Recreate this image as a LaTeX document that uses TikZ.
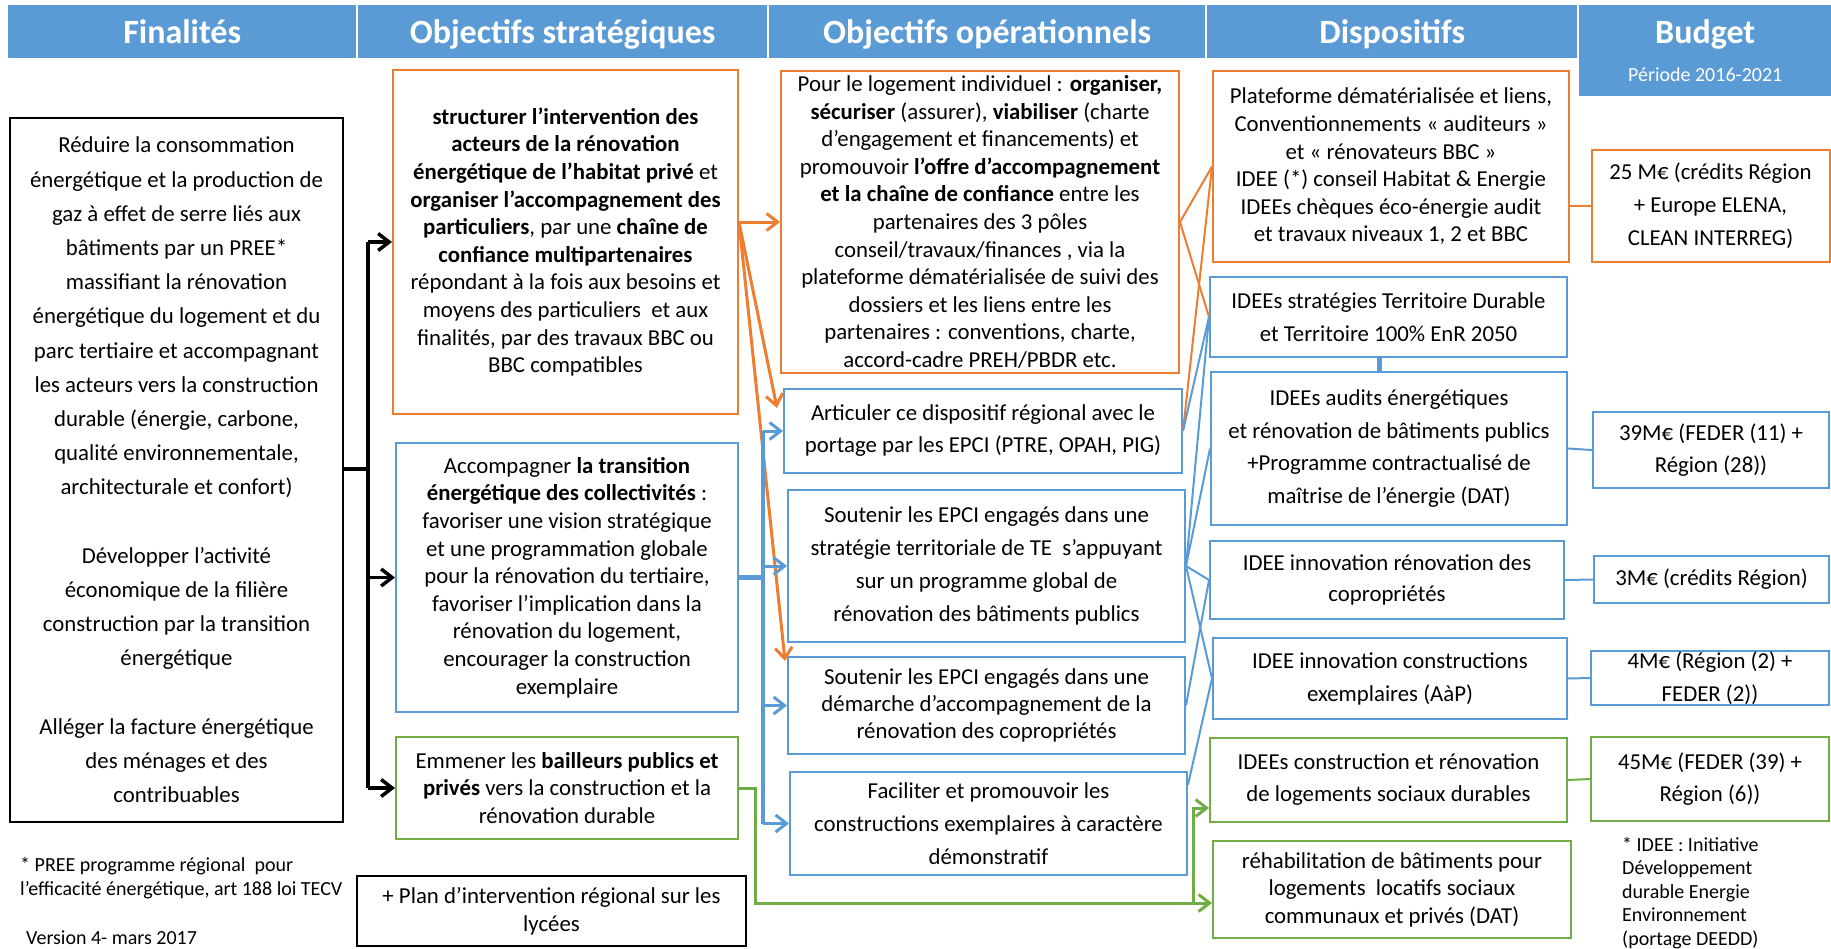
\documentclass[tikz,border=0pt]{standalone}
\usepackage{fontspec}
\setmainfont{Carlito}
\usetikzlibrary{arrows.meta}
\definecolor{cblue}{HTML}{5B9BD5}
\definecolor{corange}{HTML}{ED7D31}
\definecolor{cgreen}{HTML}{70AD47}
\tikzset{
  basebox/.style={rectangle, draw, line width=2pt, fill=white, inner sep=0pt, align=center, font=\fontsize{22.8}{27.6}\selectfont},
  obox/.style={basebox, draw=corange},
  bbox/.style={basebox, draw=cblue},
  gbox/.style={basebox, draw=cgreen},
  kbox/.style={basebox, draw=black, line width=2.5pt},
  ls/.style={font=\fontsize{22.8}{#1}\selectfont},
  hcell/.style={rectangle, fill=cblue, draw=none, inner sep=0pt, anchor=north west, text=white, text height=31pt, text depth=7pt, font=\bfseries\fontsize{34}{40}\selectfont},
  note/.style={inner sep=0pt, anchor=west, align=left, font=\fontsize{20}{23.5}\selectfont},
  ktip/.style={line width=3.5pt, draw=black, -{Straight Barb[length=11pt,width=17pt]}},
  kline/.style={line width=3.5pt, draw=black},
  otip/.style={line width=3pt, draw=corange, -{Straight Barb[length=11pt,width=17pt]}},
  btip/.style={line width=3pt, draw=cblue, -{Straight Barb[length=11pt,width=17pt]}},
  gtip/.style={line width=3pt, draw=cgreen, -{Straight Barb[length=11pt,width=17pt]}},
  othin/.style={line width=2pt, draw=corange},
  bthin/.style={line width=2pt, draw=cblue},
  gthin/.style={line width=2pt, draw=cgreen},
}
\begin{document}
\begin{tikzpicture}[x=1pt,y=-1pt]
\useasboundingbox (0,0) rectangle (1831,948);
% header
\node[hcell, minimum width=348pt, minimum height=53pt] (h1) at (8,5) {Finalités};
\node[hcell, minimum width=409pt, minimum height=53pt] (h2) at (358,5) {Objectifs stratégiques};
\node[hcell, minimum width=436pt, minimum height=53pt] (h3) at (769,5) {Objectifs opérationnels};
\node[hcell, minimum width=370pt, minimum height=53pt] (h4) at (1207,5) {Dispositifs};
\node[hcell, minimum width=252pt, minimum height=53pt] (h5) at (1579,5) {Budget};
\node[hcell, minimum width=252pt, minimum height=38pt, text height=15pt, text depth=5pt, font=\fontsize{20}{24}\selectfont] (h6) at (1579,57.5) {Période 2016-2021};

% finalites
\node[kbox, minimum width=333pt, minimum height=704pt, ls=34.2] (fin) at (176.5,470) {Réduire la consommation\\ énergétique et la production de\\ gaz à effet de serre liés aux\\ bâtiments par un PREE*\\ massifiant la rénovation\\ énergétique du logement et du\\ parc tertiaire et accompagnant\\ les acteurs vers la construction\\ durable (énergie, carbone,\\ qualité environnementale,\\ architecturale et confort)\\[34.2pt] Développer l’activité\\ économique de la filière\\ construction par la transition\\ énergétique\\[34.2pt] Alléger la facture énergétique\\ des ménages et des\\ contribuables};

\node[note] (n1) at (20,878) {* PREE programme régional\ \ pour\\ l’efficacité énergétique, art 188 loi TECV};
\node[note] (n2) at (26,938) {Version 4- mars 2017};

% strategic
\node[obox, minimum width=345pt, minimum height=344pt] (s1) at (565.5,242) {\textbf{structurer l’intervention des}\\ \textbf{acteurs de la rénovation}\\ \textbf{énergétique de l’habitat privé} et\\ \textbf{organiser l’accompagnement des}\\ \textbf{particuliers}, par une \textbf{chaîne de}\\ \textbf{confiance multipartenaires}\\ répondant à la fois aux besoins et\\ moyens des particuliers\ \ et aux\\ finalités, par des travaux BBC ou\\ BBC compatibles};
\node[bbox, minimum width=342pt, minimum height=269pt] (s2) at (567,577.5) {Accompagner \textbf{la transition}\\ \textbf{énergétique des collectivités} :\\ favoriser une vision stratégique\\ et une programmation globale\\ pour la rénovation du tertiaire,\\ favoriser l’implication dans la\\ rénovation du logement,\\ encourager la construction\\ exemplaire};
\node[gbox, minimum width=342pt, minimum height=102pt] (s3) at (567,788) {Emmener les \textbf{bailleurs publics et}\\ \textbf{privés} vers la construction et la\\ rénovation durable};
\node[kbox, minimum width=389pt, minimum height=70pt] (plan) at (551.5,911) {+ Plan d’intervention régional sur les\\ lycées};

% operational
\node[obox, minimum width=398pt, minimum height=302pt] (o1) at (980,222) {Pour le logement individuel : \textbf{organiser,}\\ \textbf{sécuriser} (assurer), \textbf{viabiliser} (charte\\ d’engagement et financements) et\\ promouvoir \textbf{l’offre d’accompagnement}\\ \textbf{et la chaîne de confiance} entre les\\ partenaires des 3 pôles\\ conseil/travaux/finances , via la\\ plateforme dématérialisée de suivi des\\ dossiers et les liens entre les\\ partenaires : conventions, charte,\\ accord-cadre PREH/PBDR etc.};
\node[bbox, minimum width=398pt, minimum height=84pt, ls=32] (o2) at (983,431) {Articuler ce dispositif régional avec le\\ portage par les EPCI (PTRE, OPAH, PIG)};
\node[bbox, minimum width=397pt, minimum height=152pt, ls=33] (o3) at (986.5,566) {Soutenir les EPCI engagés dans une\\ stratégie territoriale de TE\ \ s’appuyant\\ sur un programme global de\\ rénovation des bâtiments publics};
\node[bbox, minimum width=397pt, minimum height=97pt, ls=27.4] (o4) at (986.5,705.5) {Soutenir les EPCI engagés dans une\\ démarche d’accompagnement de la\\ rénovation des copropriétés};
\node[bbox, minimum width=397pt, minimum height=103pt, ls=33] (o5) at (988.5,823.5) {Faciliter et promouvoir les\\ constructions exemplaires à caractère\\ démonstratif};

% dispositifs
\node[obox, minimum width=356pt, minimum height=191pt] (d1) at (1391,166.5) {Plateforme dématérialisée et liens,\\ Conventionnements « auditeurs »\\ et « rénovateurs BBC »\\ IDEE (*) conseil Habitat \& Energie\\ IDEEs chèques éco-énergie audit\\ et travaux niveaux 1, 2 et BBC};
\node[bbox, minimum width=357pt, minimum height=80pt, ls=32.7] (d2) at (1388.5,317) {IDEEs stratégies Territoire Durable\\ et Territoire 100\% EnR 2050};
\node[bbox, minimum width=356pt, minimum height=153pt, ls=32.7] (d3) at (1389,448.5) {IDEEs audits énergétiques\\ et rénovation de bâtiments publics\\ +Programme contractualisé de\\ maîtrise de l’énergie (DAT)};
\node[bbox, minimum width=354pt, minimum height=78pt, ls=30.7] (d4) at (1387,580) {IDEE innovation rénovation des\\ copropriétés};
\node[bbox, minimum width=354pt, minimum height=81pt, ls=33] (d5) at (1390,678.5) {IDEE innovation constructions\\ exemplaires (AàP)};
\node[gbox, minimum width=357pt, minimum height=84pt, ls=32] (d6) at (1388.5,780) {IDEEs construction et rénovation\\ de logements sociaux durables};
\node[gbox, minimum width=358pt, minimum height=97pt, ls=27.5] (d7) at (1392,889.5) {réhabilitation de bâtiments pour\\ logements\ \ locatifs sociaux\\ communaux et privés (DAT)};

% budget
\node[obox, minimum width=238pt, minimum height=112pt, ls=33] (b1) at (1710.5,206) {25 M€ (crédits Région\\ + Europe ELENA,\\ CLEAN INTERREG)};
\node[bbox, minimum width=236pt, minimum height=76pt, ls=32.5] (b2) at (1711,450) {39M€ (FEDER (11) +\\ Région (28))};
\node[bbox, minimum width=235pt, minimum height=47pt] (b3) at (1711.5,579.5) {3M€ (crédits Région)};
\node[bbox, minimum width=238pt, minimum height=54pt, ls=33] (b4) at (1710,678) {4M€ (Région (2) +\\ FEDER (2))};
\node[gbox, minimum width=238pt, minimum height=84pt, ls=32] (b5) at (1710,779) {45M€ (FEDER (39) +\\ Région (6))};
\node[note] (n3) at (1622,893) {* IDEE : Initiative\\ Développement\\ durable Energie\\ Environnement\\ (portage DEEDD)};

% black connectors
\coordinate (kj) at (368,469);
\draw[kline] (fin.east |- kj) -- (kj);
\draw[kline] (kj |- s1.west) -- (kj |- s3.west);
\draw[ktip] (kj |- s1.west) -- (s1.west);
\draw[ktip] (kj |- s2.west) -- (s2.west);
\draw[ktip] (kj |- s3.west) -- (s3.west);

% orange strategic -> operational
\coordinate (os) at (s1.east |- o1.west);
\coordinate (o2t) at (777,408);
\coordinate (o4t) at (785,661);
\draw[otip] (os) -- (o1.west);
\draw[otip] (os) -- (o2t);
\draw[otip] (os) -- (o4t);

% blue strategic -> operational
\coordinate (bj) at (763,577.5);
\draw[cblue, line width=5.5pt] (s2.east) -- (bj);
\draw[cblue, line width=3.5pt] (bj |- o2.west) -- (bj |- o5.west);
\draw[btip] (bj |- o2.west) -- (o2.west);
\draw[btip] (bj |- o3.west) -- (o3.west);
\draw[btip] (bj |- o4.west) -- (o4.west);
\draw[btip] (bj |- o5.west) -- (o5.west);

% green strategic -> dispositifs
\coordinate (g1) at (755,903);
\coordinate (g2) at (1193,903);
\coordinate (g3) at (1193,808);
\draw[gtip] (s3.east) -| (g1) -- (d7.west |- g1);
\draw[gtip] (g2) |- (d6.west |- g3);

% operational -> dispositifs
\draw[othin] (o1.east) -- (d1.west);
\draw[othin] (o1.east) -- (d2.west);
\draw[othin] (o2.east) -- (d1.west);
\draw[bthin] (o2.east) -- (d2.west);
\draw[bthin] (o3.east) -- (d2.west);
\draw[bthin] (o3.east) -- (d3.west);
\draw[bthin] (o3.east) -- (d4.west);
\draw[bthin] (o3.east) -- (d5.west);
\draw[bthin] (o4.east) -- (d4.west);
\draw[bthin] (o5.11) -- (d5.west);
\draw[cblue, line width=5pt] ([xshift=-9.5pt]d2.south) -- ([xshift=-10pt]d3.north);

% dispositifs -> budget
\draw[othin] (d1.east |- b1.west) -- (b1.west);
\draw[bthin] (d3.east) -- (b2.west);
\draw[bthin] (d4.east) -- (b3.west);
\draw[bthin] (d5.east) -- (b4.west);
\draw[gthin] (d6.east) -- (b5.west);
\end{tikzpicture}
\end{document}
